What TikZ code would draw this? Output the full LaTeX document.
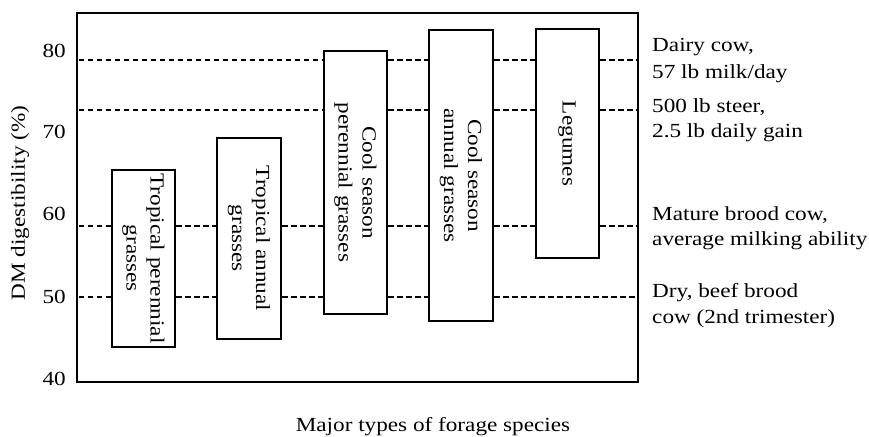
\documentclass[tikz,border=0pt]{standalone}
\usepackage{fontspec}
\setmainfont{Liberation Serif}[FakeStretch=1.16]
\begin{document}
\begin{tikzpicture}[x=1pt,y=-1pt,
  every node/.style={font=\fontsize{20}{24}\selectfont},
  frame/.style={draw, line width=2.8pt, inner sep=0pt},
  box/.style={draw, line width=2.3pt, fill=white, inner sep=0pt, align=center},
  dl/.style={line width=2.6pt, dash pattern=on 5.5pt off 3.5pt},
  lab/.style={anchor=base west, inner sep=0pt},
  tick/.style={anchor=east, inner sep=0pt}]
\useasboundingbox (0,0) rectangle (869,436);
\node[frame, minimum width=561pt, minimum height=369pt] (fr) at (357.5,197.5) {};
% boxes
\newcommand{\vtext}[1]{\rotatebox{-90}{\begin{tabular}{@{}c@{}}#1\end{tabular}}}
\node[box, minimum width=63pt, minimum height=177pt] (b1) at (143.5,258.5) {\vtext{Tropical perennial\\grasses}};
\node[box, minimum width=64pt, minimum height=201pt] (b2) at (249,238.5) {\vtext{Tropical annual\\grasses}};
\node[box, minimum width=63pt, minimum height=263pt] (b3) at (355.5,182.5) {\vtext{Cool season\\perennial grasses}};
\node[box, minimum width=64pt, minimum height=291pt] (b4) at (461,175.5) {\vtext{Cool season\\annual grasses}};
\node[box, minimum width=63pt, minimum height=229pt] (b5) at (567.5,143.5) {\vtext{Legumes}};
% dashed level lines
\coordinate (y1) at (0,60);
\coordinate (y2) at (0,110);
\coordinate (y3) at (0,226);
\coordinate (y4) at (0,297);
\foreach \y in {y1,y2}{
  \draw[dl] (fr.west |- \y) ++(3,0) -- (b3.west |- \y);
  \draw[dl] (b3.east |- \y) -- (b4.west |- \y);
  \draw[dl] (b4.east |- \y) -- (b5.west |- \y);
  \draw[dl] (b5.east |- \y) -- ([xshift=-3pt]fr.east |- \y);
}
\foreach \y in {y3}{
  \draw[dl] (fr.west |- \y) ++(3,0) -- (b1.west |- \y);
  \draw[dl] (b1.east |- \y) -- (b2.west |- \y);
  \draw[dl] (b2.east |- \y) -- (b3.west |- \y);
  \draw[dl] (b3.east |- \y) -- (b4.west |- \y);
  \draw[dl] (b4.east |- \y) -- (b5.west |- \y);
  \draw[dl] (b5.east |- \y) -- ([xshift=-3pt]fr.east |- \y);
}
\draw[dl] (fr.west |- y4) ++(3,0) -- (b1.west |- y4);
\draw[dl] (b1.east |- y4) -- (b2.west |- y4);
\draw[dl] (b2.east |- y4) -- (b3.west |- y4);
\draw[dl] (b3.east |- y4) -- (b4.west |- y4);
\draw[dl] (b4.east |- y4) -- ([xshift=-3pt]fr.east |- y4);
% ticks
\node[tick] (t80) at (66,51) {80};
\node[tick] (t70) at (66,132) {70};
\node[tick] (t60) at (66,214) {60};
\node[tick] (t50) at (66,297) {50};
\node[tick] (t40) at (66,379) {40};
% axis labels
\node[rotate=90] (ylab) at (20,203) {DM digestibility (\%)};
\node[anchor=base, inner sep=0pt] (xlab) at (433,431) {Major types of forage species};
% right labels
\node[lab] (r1a) at (652,52) {Dairy cow,};
\node[lab] (r1b) at (652,78) {57 lb milk/day};
\node[lab] (r2a) at (652,112) {500 lb steer,};
\node[lab] (r2b) at (652,137) {2.5 lb daily gain};
\node[lab] (r3a) at (652,220) {Mature brood cow,};
\node[lab] (r3b) at (652,245) {average milking ability};
\node[lab] (r4a) at (652,297) {Dry, beef brood};
\node[lab] (r4b) at (652,323) {cow (2nd trimester)};
\end{tikzpicture}
\end{document}
